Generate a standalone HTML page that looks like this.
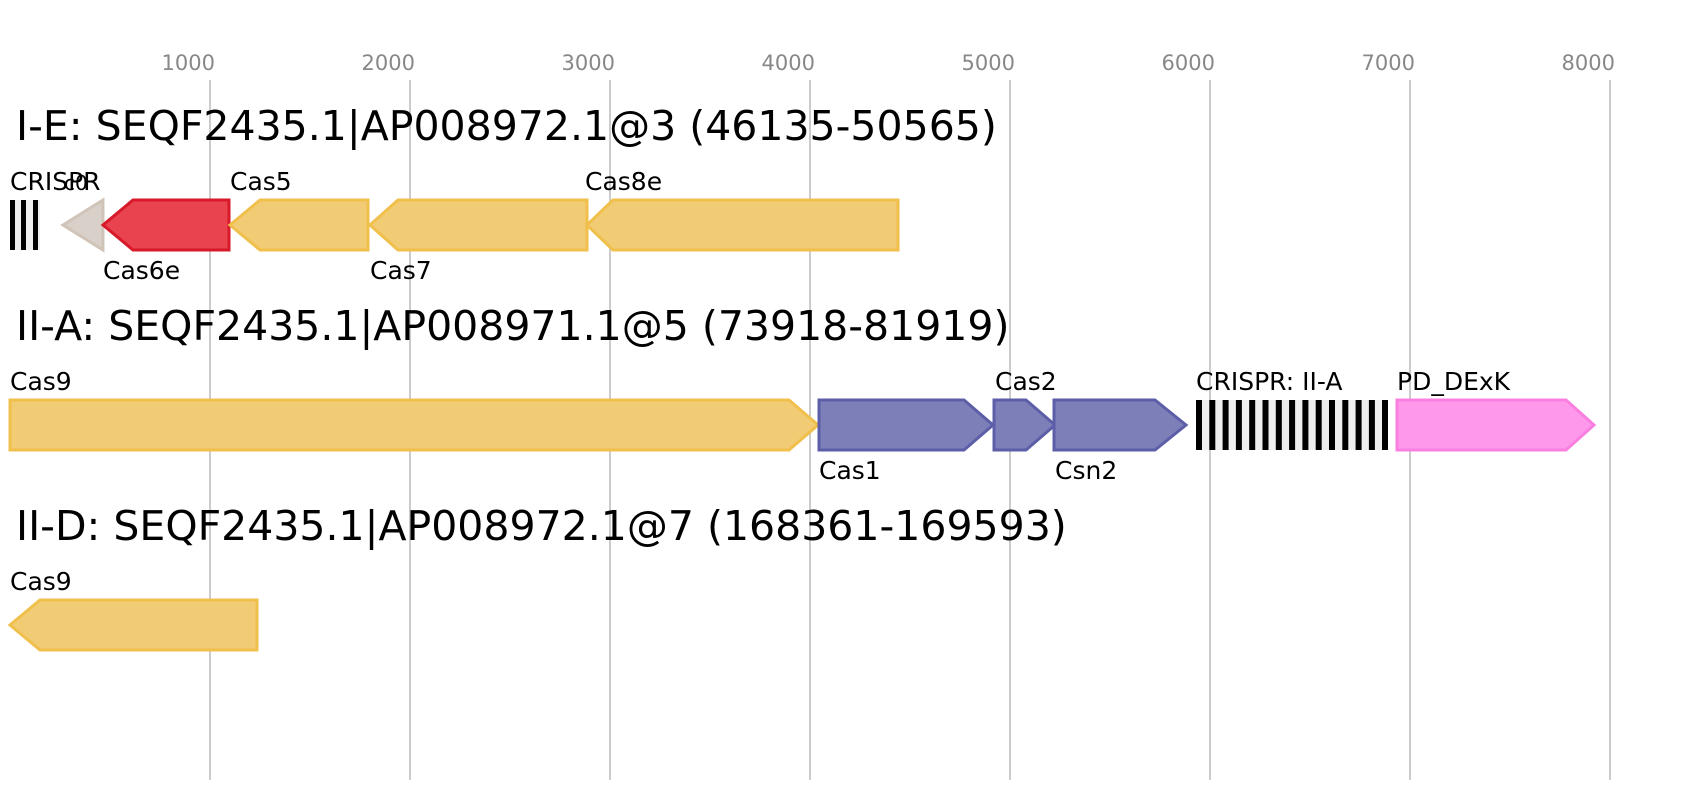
<!DOCTYPE html>
<html><head><style>body{margin:0;background:#fff}svg{display:block}text{font-family:"DejaVu Sans","Liberation Sans",sans-serif}</style></head><body>
<svg width="1700" height="800" viewBox="0 0 1700 800">
<g stroke="#bbb" stroke-width="1.5">
<line x1="210" y1="80" x2="210" y2="780"/><line x1="410" y1="80" x2="410" y2="780"/><line x1="610" y1="80" x2="610" y2="780"/><line x1="810" y1="80" x2="810" y2="780"/><line x1="1010" y1="80" x2="1010" y2="780"/><line x1="1210" y1="80" x2="1210" y2="780"/><line x1="1410" y1="80" x2="1410" y2="780"/><line x1="1610" y1="80" x2="1610" y2="780"/>
</g>
<g fill="#888" font-size="21" text-anchor="end">
<text x="215" y="70">1000</text><text x="415" y="70">2000</text><text x="615" y="70">3000</text><text x="815" y="70">4000</text><text x="1015" y="70">5000</text><text x="1215" y="70">6000</text><text x="1415" y="70">7000</text><text x="1615" y="70">8000</text>
</g>
<g font-size="41" fill="#000">
<text x="16" y="140">I-E: SEQF2435.1|AP008972.1@3 (46135-50565)</text>
<text x="16" y="340">II-A: SEQF2435.1|AP008971.1@5 (73918-81919)</text>
<text x="16" y="540">II-D: SEQF2435.1|AP008972.1@7 (168361-169593)</text>
</g>
<rect x="10" y="200" width="30" height="50" fill="#eee"/>
<g fill="#000"><rect x="10" y="200" width="5" height="50"/><rect x="21" y="200" width="5" height="50"/><rect x="33" y="200" width="5" height="50"/></g>
<g stroke-width="3">
<polygon points="63,225 103,200 103,250" fill="#d9d0c9" stroke="#d0c4b8"/>
<polygon points="103,225 133,200 229,200 229,250 133,250" fill="#e8434f" stroke="#d7192a"/>
<polygon points="230,225 260,200 368,200 368,250 260,250" fill="#f2cc75" stroke="#f0bf4c"/>
<polygon points="370,225 398,200 587,200 587,250 398,250" fill="#f2cc75" stroke="#f0bf4c"/>
<polygon points="587,225 613,200 898,200 898,250 613,250" fill="#f2cc75" stroke="#f0bf4c"/>
<polygon points="10,400 789,400 818,425 789,450 10,450" fill="#f2cc75" stroke="#f0bf4c"/>
<polygon points="819,400 964,400 993,425 964,450 819,450" fill="#7d7fb8" stroke="#5c5ea8"/>
<polygon points="994,400 1026,400 1055,425 1026,450 994,450" fill="#7d7fb8" stroke="#5c5ea8"/>
<polygon points="1054,400 1155,400 1186,425 1155,450 1054,450" fill="#7d7fb8" stroke="#5c5ea8"/>
<polygon points="1397,400 1566,400 1594,425 1566,450 1397,450" fill="#fd98ea" stroke="#fb7fe0"/>
<polygon points="10,625 40,600 257,600 257,650 40,650" fill="#f2cc75" stroke="#f0bf4c"/>
</g>
<rect x="1196" y="400" width="192" height="50" fill="#eee"/>
<g fill="#000">
<rect x="1196" y="400" width="6" height="50"/><rect x="1209.3" y="400" width="6" height="50"/><rect x="1222.6" y="400" width="6" height="50"/><rect x="1235.9" y="400" width="6" height="50"/><rect x="1249.2" y="400" width="6" height="50"/><rect x="1262.5" y="400" width="6" height="50"/><rect x="1275.8" y="400" width="6" height="50"/><rect x="1289.1" y="400" width="6" height="50"/><rect x="1302.4" y="400" width="6" height="50"/><rect x="1315.7" y="400" width="6" height="50"/><rect x="1329" y="400" width="6" height="50"/><rect x="1342.3" y="400" width="6" height="50"/><rect x="1355.6" y="400" width="6" height="50"/><rect x="1368.9" y="400" width="6" height="50"/><rect x="1382" y="400" width="6" height="50"/>
</g>
<g font-size="25" fill="#000">
<text x="10" y="190">CRISPR</text><text x="64" y="190" font-size="20">c0</text>
<text x="230" y="190">Cas5</text><text x="585" y="190">Cas8e</text>
<text x="103" y="279">Cas6e</text><text x="370" y="279">Cas7</text>
<text x="10" y="390">Cas9</text><text x="995" y="390">Cas2</text><text x="1196" y="390">CRISPR: II-A</text><text x="1397" y="390">PD_DExK</text>
<text x="819" y="479">Cas1</text><text x="1055" y="479">Csn2</text>
<text x="10" y="590">Cas9</text>
</g>
</svg>
</body></html>
